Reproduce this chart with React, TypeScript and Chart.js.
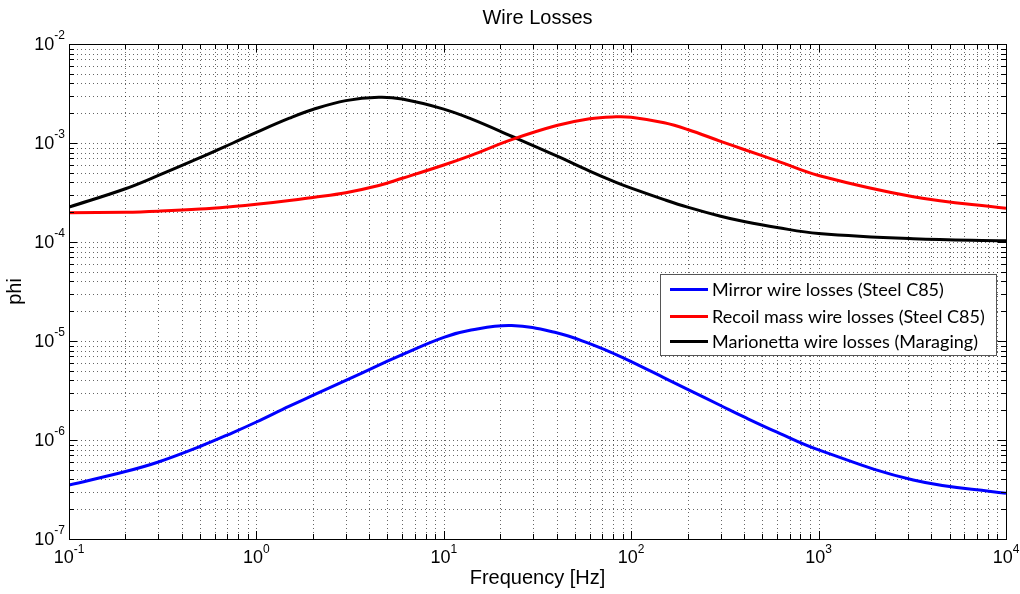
import React, { useEffect, useRef } from 'react';
import { Chart, registerables } from 'chart.js';

Chart.register(...registerables);

// ---- data ----
const frequencies = [0.1, 0.2, 0.3, 0.5, 0.75, 1, 1.5, 2, 3, 4.5, 6, 10, 14, 23, 40, 60, 83, 100, 150, 200, 300, 400, 600, 1000, 3200, 10000];
const mirrorLosses = [3.5e-7, 4.8e-7, 6.0e-7, 8.6e-7, 1.19e-6, 1.52e-6, 2.2e-6, 2.82e-6, 4.0e-6, 5.7e-6, 7.3e-6, 1.09e-5, 1.29e-5, 1.43e-5, 1.21e-5, 9.4e-6, 7.3e-6, 6.2e-6, 4.25e-6, 3.25e-6, 2.23e-6, 1.71e-6, 1.2e-6, 7.95e-7, 3.95e-7, 2.89e-7];
const recoilLosses = [1.97e-4, 2.0e-4, 2.05e-4, 2.15e-4, 2.28e-4, 2.4e-4, 2.62e-4, 2.82e-4, 3.15e-4, 3.72e-4, 4.4e-4, 6.0e-4, 7.5e-4, 1.08e-3, 1.5e-3, 1.76e-3, 1.84e-3, 1.82e-3, 1.6e-3, 1.37e-3, 1.04e-3, 8.6e-4, 6.6e-4, 4.7e-4, 2.87e-4, 2.19e-4];
const marionettaLosses = [2.25e-4, 3.45e-4, 4.7e-4, 7.1e-4, 1.0e-3, 1.28e-3, 1.78e-3, 2.18e-3, 2.68e-3, 2.9e-3, 2.78e-3, 2.2e-3, 1.75e-3, 1.17e-3, 7.4e-4, 5.2e-4, 4.0e-4, 3.5e-4, 2.68e-4, 2.25e-4, 1.82e-4, 1.61e-4, 1.4e-4, 1.22e-4, 1.08e-4, 1.03e-4];

const seriesLabels = ['Mirror wire losses (Steel C85)', 'Recoil mass wire losses (Steel C85)', 'Marionetta wire losses (Maraging)'];
const seriesColors = ['#0000ff', '#ff0000', '#000000'];
const xTickExponents = [-1, 0, 1, 2, 3, 4];
const yTickExponents = [-7, -6, -5, -4, -3, -2];
const chartTitle = 'Wire Losses';
const xAxisTitle = 'Frequency [Hz]';
const yAxisTitle = 'phi';

const AXIS_FONT = '"Liberation Sans", Arial, sans-serif';
const LEGEND_FONT = 'Lato, "Liberation Sans", sans-serif';

function drawPower(ctx: CanvasRenderingContext2D, exp: number, x: number, y: number, mode: 'x' | 'y') {
  const base = '10';
  const ex = String(exp);
  ctx.font = `18px ${AXIS_FONT}`;
  const wb = ctx.measureText(base).width;
  ctx.font = `12px ${AXIS_FONT}`;
  const we = ctx.measureText(ex).width;
  const total = wb + we;
  let left: number;
  let mid: number;
  if (mode === 'y') {
    left = x - 4 - total;
    mid = y + 1;
  } else {
    left = x - total / 2;
    mid = y + 19.5;
  }
  ctx.fillStyle = '#000';
  ctx.textBaseline = 'middle';
  ctx.textAlign = 'left';
  ctx.font = `18px ${AXIS_FONT}`;
  ctx.fillText(base, left, mid);
  ctx.font = `12px ${AXIS_FONT}`;
  ctx.fillText(ex, left + wb, mid - 9);
}

const decorPlugin = {
  id: 'matlabDecor',
  beforeDraw(chart: any) {
    const ctx = chart.ctx;
    ctx.save();
    ctx.fillStyle = '#fff';
    ctx.fillRect(0, 0, chart.width, chart.height);
    ctx.restore();
  },
  beforeDatasetsDraw(chart: any) {
    const { ctx, chartArea: a, scales } = chart;
    const xs = scales.x;
    const ys = scales.y;
    ctx.save();
    ctx.strokeStyle = 'rgba(0,0,0,0.6)';
    ctx.lineWidth = 1;
    ctx.setLineDash([1, 3]);
    for (let e = xTickExponents[0]; e < xTickExponents[xTickExponents.length - 1]; e++) {
      for (let m = 1; m <= 9; m++) {
        const v = m * Math.pow(10, e);
        const px = Math.round(xs.getPixelForValue(v)) + 0.5;
        if (px <= a.left + 1 || px >= a.right - 1) continue;
        ctx.beginPath();
        ctx.moveTo(px, a.top);
        ctx.lineTo(px, a.bottom);
        ctx.stroke();
      }
    }
    for (let e = yTickExponents[0]; e < yTickExponents[yTickExponents.length - 1]; e++) {
      for (let m = 1; m <= 9; m++) {
        const v = m * Math.pow(10, e);
        const py = Math.round(ys.getPixelForValue(v)) + 0.5;
        if (py <= a.top + 1 || py >= a.bottom - 1) continue;
        ctx.beginPath();
        ctx.moveTo(a.left, py);
        ctx.lineTo(a.right, py);
        ctx.stroke();
      }
    }
    ctx.restore();
  },
  afterDatasetsDraw(chart: any) {
    const { ctx, chartArea: a, scales } = chart;
    const xs = scales.x;
    const ys = scales.y;
    ctx.save();
    ctx.setLineDash([]);
    ctx.strokeStyle = '#000';
    ctx.lineWidth = 1;
    // tick marks
    ctx.beginPath();
    for (let e = xTickExponents[0]; e <= xTickExponents[xTickExponents.length - 1]; e++) {
      for (let m = 1; m <= 9; m++) {
        if (e === xTickExponents[xTickExponents.length - 1] && m > 1) break;
        const v = m * Math.pow(10, e);
        const px = Math.round(xs.getPixelForValue(v)) + 0.5;
        const len = m === 1 ? 8 : 5;
        ctx.moveTo(px, a.bottom);
        ctx.lineTo(px, a.bottom - len);
        ctx.moveTo(px, a.top);
        ctx.lineTo(px, a.top + len);
      }
    }
    for (let e = yTickExponents[0]; e <= yTickExponents[yTickExponents.length - 1]; e++) {
      for (let m = 1; m <= 9; m++) {
        if (e === yTickExponents[yTickExponents.length - 1] && m > 1) break;
        const v = m * Math.pow(10, e);
        const py = Math.round(ys.getPixelForValue(v)) + 0.5;
        const len = m === 1 ? 8 : 5;
        ctx.moveTo(a.left, py);
        ctx.lineTo(a.left + len, py);
        ctx.moveTo(a.right, py);
        ctx.lineTo(a.right - len, py);
      }
    }
    ctx.stroke();
    // box
    ctx.strokeRect(Math.round(a.left) + 0.5, Math.round(a.top) + 0.5, Math.round(a.right - a.left), Math.round(a.bottom - a.top));

    // tick labels
    xTickExponents.forEach((e) => drawPower(ctx, e, xs.getPixelForValue(Math.pow(10, e)), a.bottom, 'x'));
    yTickExponents.forEach((e) => drawPower(ctx, e, a.left, ys.getPixelForValue(Math.pow(10, e)), 'y'));

    // titles
    ctx.fillStyle = '#000';
    ctx.textAlign = 'center';
    ctx.textBaseline = 'middle';
    ctx.font = `20px ${AXIS_FONT}`;
    const cx = (a.left + a.right) / 2;
    ctx.fillText(chartTitle, cx, 18);
    ctx.fillText(xAxisTitle, cx, 578);
    ctx.save();
    ctx.translate(15, (a.top + a.bottom) / 2);
    ctx.rotate(-Math.PI / 2);
    ctx.fillText(yAxisTitle, 0, 0);
    ctx.restore();

    // legend
    const lx0 = 660, ly0 = 274, lx1 = 996, ly1 = 355;
    ctx.fillStyle = '#fff';
    ctx.fillRect(lx0, ly0, lx1 - lx0, ly1 - ly0);
    ctx.strokeStyle = '#555';
    ctx.lineWidth = 1;
    ctx.strokeRect(lx0 + 0.5, ly0 + 0.5, lx1 - lx0, ly1 - ly0);
    let fs = 19;
    ctx.font = `${fs}px ${LEGEND_FONT}`;
    while (fs > 10 && ctx.measureText(seriesLabels[1]).width > 273) {
      fs -= 0.5;
      ctx.font = `${fs}px ${LEGEND_FONT}`;
    }
    const rows = [289.5, 316.5, 341.5];
    seriesLabels.forEach((label, i) => {
      ctx.strokeStyle = seriesColors[i];
      ctx.lineWidth = 3;
      ctx.beginPath();
      ctx.moveTo(670, rows[i]);
      ctx.lineTo(708, rows[i]);
      ctx.stroke();
      ctx.fillStyle = '#000';
      ctx.textAlign = 'left';
      ctx.textBaseline = 'middle';
      ctx.fillText(label, 712, rows[i] + 0.5);
    });
    ctx.restore();
  },
};

export default function App() {
  const canvasRef = useRef<HTMLCanvasElement | null>(null);

  useEffect(() => {
    if (!canvasRef.current) return;
    const seriesValues = [mirrorLosses, recoilLosses, marionettaLosses];
    const chart = new Chart(canvasRef.current, {
      type: 'line',
      data: {
        datasets: seriesValues.map((vals, i) => ({
          label: seriesLabels[i],
          data: frequencies.map((f, j) => ({ x: f, y: vals[j] })),
          borderColor: seriesColors[i],
          backgroundColor: seriesColors[i],
          borderWidth: 3,
          pointRadius: 0,
          fill: false,
          tension: 0.4,
        })),
      },
      options: {
        animation: false,
        responsive: false,
        devicePixelRatio: 1,
        layout: { padding: { left: 69, top: 44, right: 14, bottom: 55 } },
        plugins: {
          legend: { display: false },
          title: { display: false },
          tooltip: { enabled: false },
        },
        events: [],
        scales: {
          x: {
            type: 'logarithmic',
            min: 0.1,
            max: 10000,
            display: false,
          },
          y: {
            type: 'logarithmic',
            min: 1e-7,
            max: 1e-2,
            display: false,
          },
        },
      },
      plugins: [decorPlugin],
    });
    return () => chart.destroy();
  }, []);

  return (
    <div style={{ position: 'absolute', left: 0, top: 0, width: 1020, height: 594, background: '#fff' }}>
      <canvas ref={canvasRef} width={1020} height={594} style={{ display: 'block', width: 1020, height: 594 }} />
    </div>
  );
}
